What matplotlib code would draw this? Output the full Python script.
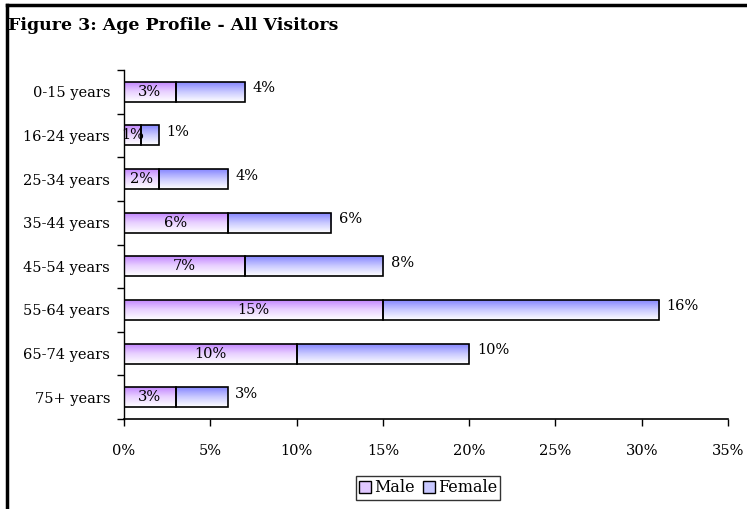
import numpy as np
import matplotlib
matplotlib.use("Agg")
import matplotlib.pyplot as plt
from matplotlib.colors import LinearSegmentedColormap
from matplotlib.patches import Patch
from matplotlib.lines import Line2D

# data (percent of all visitors)
age_groups = ["0-15 years", "16-24 years", "25-34 years", "35-44 years",
              "45-54 years", "55-64 years", "65-74 years", "75+ years"]
male = [3, 1, 2, 6, 7, 15, 10, 3]
female = [4, 1, 4, 6, 8, 16, 10, 3]
x_ticks = [0, 5, 10, 15, 20, 25, 30, 35]

plt.rcParams["font.family"] = ["DejaVu Serif"]

fig = plt.figure(figsize=(7.47, 5.09), dpi=100)
ax = fig.add_axes([124 / 747, 90 / 509, 604 / 747, 349 / 509])

male_cmap = LinearSegmentedColormap.from_list("m", ["#c080ff", "#e8d0ff", "#ffffff"])
female_cmap = LinearSegmentedColormap.from_list("f", ["#8080ff", "#c8c8ff", "#ffffff"])
grad = np.linspace(0, 1, 64).reshape(-1, 1)

y = np.arange(len(age_groups))
h = 0.46


def gradient_bars(bars, cmap):
    # fill each bar with a top-to-bottom gradient clipped to the bar shape
    for b in bars:
        x0, y0 = b.get_x(), b.get_y()
        w, hh = b.get_width(), b.get_height()
        im = ax.imshow(grad, cmap=cmap, aspect="auto", origin="upper",
                       extent=(x0, x0 + w, y0 + hh, y0), zorder=2)
        im.set_clip_path(b)


mbars = ax.barh(y, male, height=h, color="none", edgecolor="black", linewidth=1.2, zorder=3)
fbars = ax.barh(y, female, left=male, height=h, color="none", edgecolor="black", linewidth=1.2, zorder=3)
gradient_bars(mbars, male_cmap)
gradient_bars(fbars, female_cmap)

for i in range(len(age_groups)):
    ax.text(male[i] / 2, y[i], f"{male[i]}%", ha="center", va="center", fontsize=10.5, zorder=4)
    ax.text(male[i] + female[i] + 0.45, y[i] - 0.08, f"{female[i]}%", ha="left", va="center", fontsize=10.5)

ax.set_xlim(0, 35)
ax.set_ylim(len(age_groups) - 0.5, -0.5)
ax.set_xticks(x_ticks)
ax.set_xticklabels([f"{t}%" for t in x_ticks], fontsize=10.5)
ax.set_yticks(y)
ax.set_yticklabels(age_groups, fontsize=10.5)
ax.set_yticks(np.arange(len(age_groups) + 1) - 0.5, minor=True)
ax.tick_params(axis="y", which="major", length=0, pad=10)
ax.tick_params(axis="y", which="minor", length=5, direction="out", width=1)
ax.tick_params(axis="x", length=5, direction="out", width=1, pad=13)
for s in ["top", "right"]:
    ax.spines[s].set_visible(False)
ax.spines["left"].set_linewidth(1)
ax.spines["bottom"].set_linewidth(1.2)

fig.text(8 / 747, 1 - 25 / 509, "Figure 3: Age Profile - All Visitors",
         fontsize=12.5, fontweight="bold", va="center", ha="left")

# border on top and left like the cropped frame
fig.add_artist(Line2D([7 / 747, 1], [1 - 5 / 509, 1 - 5 / 509], color="black", linewidth=2.5))
fig.add_artist(Line2D([7 / 747, 7 / 747], [0, 1 - 5 / 509], color="black", linewidth=2.5))

handles = [Patch(facecolor="#e0c8ff", edgecolor="black", label="Male"),
           Patch(facecolor="#c8c8ff", edgecolor="black", label="Female")]
fig.legend(handles=handles, loc="center", bbox_to_anchor=(428 / 747, 1 - 488 / 509),
           ncol=2, frameon=True, fancybox=False, edgecolor="black", fontsize=11.5,
           handlelength=0.75, handleheight=0.75, handletextpad=0.2, columnspacing=0.5,
           borderpad=0.2, borderaxespad=0)

fig.savefig("out.png", dpi=100, facecolor="white")
